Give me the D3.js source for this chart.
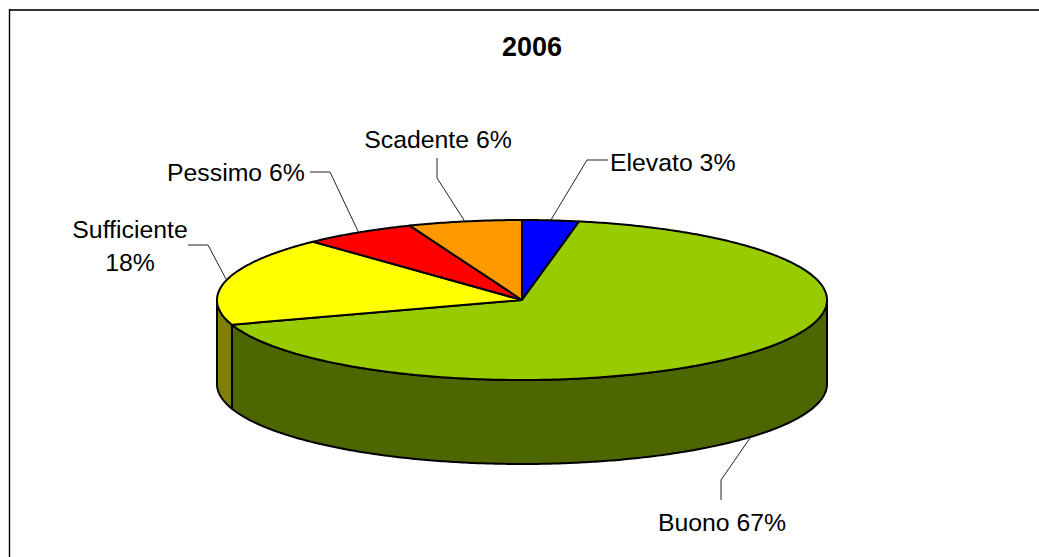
<!DOCTYPE html>
<html><head><meta charset="utf-8">
<script src="https://cdn.jsdelivr.net/npm/d3@7"></script>
<style>html,body{margin:0;padding:0;background:#fff}svg{display:block}text{font-family:"Liberation Sans",Arial,sans-serif;fill:#000}</style>
</head><body><svg id="c" width="1039" height="557"></svg>
<script>
const titleText = "2006";
const categories = ["Elevato","Buono","Sufficiente","Pessimo","Scadente"];
const values = [3,67,18,6,6];
const topColors = ["#0000ff","#99cc00","#ffff00","#ff0000","#ff9900"];
const sideColors = ["#000080","#4d6600","#808000","#800000","#804d00"];

const cx=522, cy=300, rx=305, ry=80, depth=84;
const svg=d3.select("#c");
svg.append("line").attr("x1",9).attr("x2",1039).attr("y1",10).attr("y2",10).attr("stroke","#333").attr("stroke-width",2);
svg.append("line").attr("x1",9.5).attr("x2",9.5).attr("y1",9).attr("y2",557).attr("stroke","#000").attr("stroke-width",1.4);
svg.append("text").attr("x",532).attr("y",56).attr("text-anchor","middle").attr("font-size",27).attr("font-weight","bold").text(titleText);

const arcs=d3.pie().sort(null).value(d=>d)(values);
const sx=d3.scaleLinear().domain([-1,1]).range([cx-rx,cx+rx]);
const sy=d3.scaleLinear().domain([-1,1]).range([cy-ry,cy+ry]);
const px=a=>sx(Math.sin(a)), py=a=>sy(-Math.cos(a));
const arcPts=(a0,a1,dy=0)=>{const n=Math.max(2,Math.ceil(Math.abs(a1-a0)/0.01));
  return d3.range(n+1).map(i=>{const a=a0+(a1-a0)*i/n;return [px(a),py(a)+dy];});};
const line=d3.line();

arcs.forEach((d,i)=>{
  const a0=Math.max(d.startAngle,Math.PI/2), a1=Math.min(d.endAngle,3*Math.PI/2);
  if(a1<=a0) return;
  const pts=arcPts(a0,a1).concat(arcPts(a1,a0,depth));
  svg.append("path").attr("d",line(pts)+"Z").attr("fill",sideColors[i]).attr("stroke","#000").attr("stroke-width",2).attr("stroke-linejoin","round");
});
arcs.forEach((d,i)=>{
  const pts=[[cx,cy]].concat(arcPts(d.startAngle,d.endAngle));
  svg.append("path").attr("d",line(pts)+"Z").attr("fill",topColors[i]).attr("stroke","#000").attr("stroke-width",2).attr("stroke-linejoin","round");
});

const layout=[
 {lines:[`${categories[0]} ${values[0]}%`],tx:610,ty:171,anchor:"start",elbow:[[587,160],[608,160]]},
 {lines:[`${categories[1]} ${values[1]}%`],tx:722,ty:531,anchor:"middle",elbow:[[721,480],[721,500]]},
 {lines:[categories[2],`${values[2]}%`],tx:130,ty:238,anchor:"middle",elbow:[[208,245],[188,245]]},
 {lines:[`${categories[3]} ${values[3]}%`],tx:167,ty:181,anchor:"start",elbow:[[330,172],[310,172]]},
 {lines:[`${categories[4]} ${values[4]}%`],tx:438,ty:148,anchor:"middle",elbow:[[437,178],[437,158]]}
];
arcs.forEach((d,i)=>{
  const m=(d.startAngle+d.endAngle)/2, front=Math.cos(m)<0;
  const start=[px(m),py(m)+(front?depth:0)], l=layout[i];
  svg.append("path").attr("d",line([start,...l.elbow])).attr("fill","none").attr("stroke","#222").attr("stroke-width",1);
  l.lines.forEach((t,k)=>svg.append("text").attr("x",l.tx).attr("y",l.ty+k*33).attr("text-anchor",l.anchor).attr("font-size",24.8).text(t));
});
</script></body></html>
